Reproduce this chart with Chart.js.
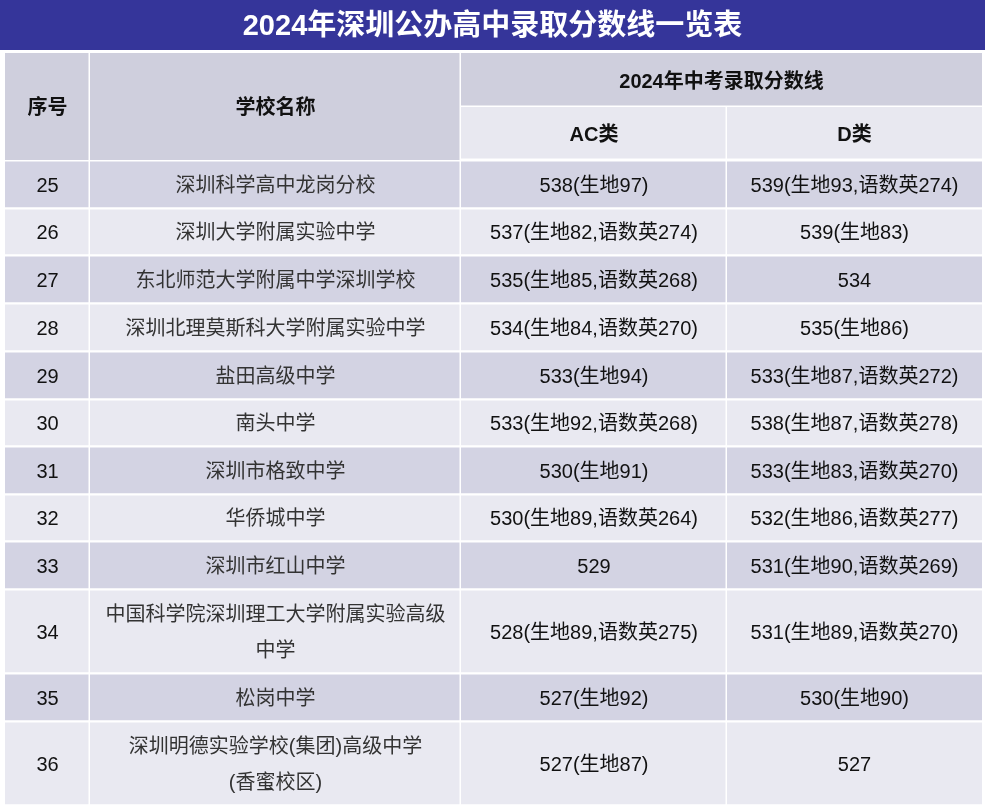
<!DOCTYPE html>
<html>
<head>
<meta charset="utf-8">
<script src="https://cdn.jsdelivr.net/npm/chart.js@4.4.1/dist/chart.umd.min.js"></script>
<style>
  html, body { margin: 0; padding: 0; background: #fff; }
  #wrap { width: 985px; height: 808px; }
</style>
</head>
<body>
<div id="wrap"><canvas id="tbl"></canvas></div>
<script>
const title = '2024年深圳公办高中录取分数线一览表';
const groupHeader = '2024年中考录取分数线';
const headers = ['序号', '学校名称', 'AC类', 'D类'];
const seq = ['25', '26', '27', '28', '29', '30', '31', '32', '33', '34', '35', '36'];
const schools = [
  ['深圳科学高中龙岗分校'],
  ['深圳大学附属实验中学'],
  ['东北师范大学附属中学深圳学校'],
  ['深圳北理莫斯科大学附属实验中学'],
  ['盐田高级中学'],
  ['南头中学'],
  ['深圳市格致中学'],
  ['华侨城中学'],
  ['深圳市红山中学'],
  ['中国科学院深圳理工大学附属实验高级', '中学'],
  ['松岗中学'],
  ['深圳明德实验学校(集团)高级中学', '(香蜜校区)']
];
const acScores = ['538(生地97)', '537(生地82,语数英274)', '535(生地85,语数英268)', '534(生地84,语数英270)',
  '533(生地94)', '533(生地92,语数英268)', '530(生地91)', '530(生地89,语数英264)', '529',
  '528(生地89,语数英275)', '527(生地92)', '527(生地87)'];
const dScores = ['539(生地93,语数英274)', '539(生地83)', '534', '535(生地86)', '533(生地87,语数英272)',
  '538(生地87,语数英278)', '533(生地83,语数英270)', '532(生地86,语数英277)', '531(生地90,语数英269)',
  '531(生地89,语数英270)', '530(生地90)', '527'];

// layout (in scale units = pixels)
const colEdges = [5, 90, 461, 727, 982];
const titleBottom = 50;
const headTop = 53, headMid = 107, headBottom = 160;
const rowHeights = [48, 47, 48, 48, 48, 47, 48, 47, 48, 84, 48, 84];

const FONT = '"Liberation Sans", "Noto Sans CJK SC", sans-serif';

const tablePlugin = {
  id: 'tablePlugin',
  afterDraw(chart) {
    const ctx = chart.ctx;
    const xs = chart.scales.x, ys = chart.scales.y;
    const X = v => xs.getPixelForValue(v), Y = v => ys.getPixelForValue(v);
    const rect = (x0, y0, x1, y1, c) => {
      ctx.fillStyle = c;
      ctx.fillRect(X(x0), Y(y0), X(x1) - X(x0), Y(y1) - Y(y0));
    };
    const text = (lines, x0, x1, y0, y1, font, color) => {
      ctx.font = font; ctx.fillStyle = color;
      ctx.textAlign = 'center'; ctx.textBaseline = 'middle';
      const lh = 36, cx = (X(x0) + X(x1)) / 2, cy = (Y(y0) + Y(y1)) / 2 + 2;
      lines.forEach((l, i) => ctx.fillText(l, cx, cy + (i - (lines.length - 1) / 2) * lh));
    };
    ctx.save();
    // title
    rect(0, 0, 985, titleBottom, '#35359a');
    text([title], 0, 985, 0, titleBottom, 'bold 29px ' + FONT, '#ffffff');
    const g = 1.5;
    const hc = '#cfcfdd', hb = 'bold 20px ' + FONT;
    // header
    rect(colEdges[0], headTop, colEdges[1] - g, headBottom, hc);
    text([headers[0]], colEdges[0], colEdges[1], headTop, headBottom, hb, '#111');
    rect(colEdges[1], headTop, colEdges[2] - g, headBottom, hc);
    text([headers[1]], colEdges[1], colEdges[2], headTop, headBottom, hb, '#111');
    rect(colEdges[2], headTop, colEdges[4], headMid - g, hc);
    text([groupHeader], colEdges[2], colEdges[4], headTop, headMid, hb, '#111');
    rect(colEdges[2], headMid, colEdges[3] - g, headBottom - g, '#e8e8f0');
    text([headers[2]], colEdges[2], colEdges[3], headMid, headBottom, hb, '#111');
    rect(colEdges[3], headMid, colEdges[4], headBottom - g, '#e8e8f0');
    text([headers[3]], colEdges[3], colEdges[4], headMid, headBottom, hb, '#111');
    // body
    let y = headBottom;
    const rf = '20px ' + FONT;
    seq.forEach((s, i) => {
      const y1 = y + rowHeights[i];
      const bg = i % 2 === 0 ? '#d3d3e3' : '#e9e9f1';
      const cells = [[s], schools[i], [acScores[i]], [dScores[i]]];
      cells.forEach((c, j) => {
        rect(colEdges[j], y + g, colEdges[j + 1] - (j < 3 ? g : 0), y1 - g / 2, bg);
        text(c, colEdges[j], colEdges[j + 1], y, y1, rf, j === 1 ? '#333' : '#111');
      });
      y = y1;
    });
    ctx.restore();
  }
};

new Chart(document.getElementById('tbl'), {
  type: 'scatter',
  data: { datasets: [{ data: [] }] },
  options: {
    responsive: true,
    maintainAspectRatio: false,
    animation: false,
    layout: { padding: 0 },
    plugins: { legend: { display: false }, tooltip: { enabled: false } },
    scales: {
      x: { type: 'linear', min: 0, max: 985, display: false },
      y: { type: 'linear', min: 0, max: 808, reverse: true, display: false }
    }
  },
  plugins: [tablePlugin]
});
</script>
</body>
</html>
